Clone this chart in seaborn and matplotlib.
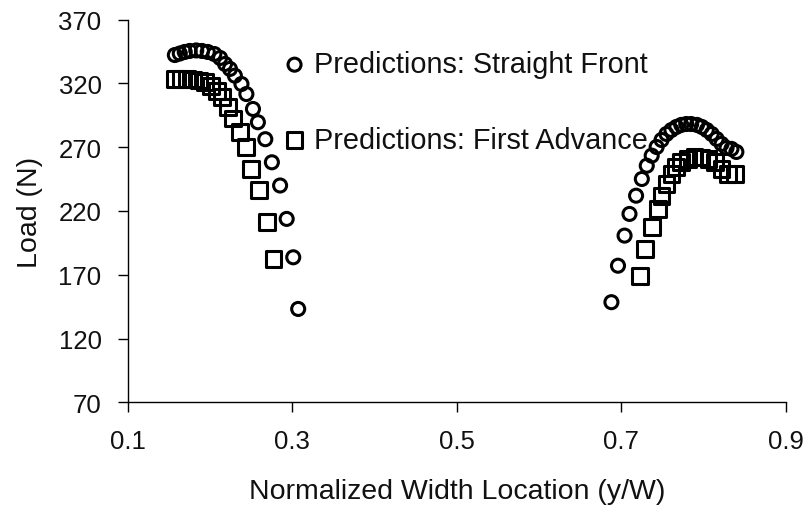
import matplotlib
matplotlib.use("Agg")
import matplotlib.pyplot as plt
import seaborn as sns
import numpy as np
import pandas as pd

# ---- data ----
sf_left_x = [0.157, 0.163, 0.169, 0.175, 0.183, 0.190, 0.197, 0.205, 0.212, 0.218, 0.224,
             0.230, 0.238, 0.244, 0.252, 0.258, 0.267, 0.275, 0.285, 0.293, 0.301, 0.307]
sf_left_y = [342.3, 343.5, 344.7, 345.5, 345.9, 345.5, 344.7, 343.1, 340.0, 335.3, 331.4,
             326.1, 319.6, 311.7, 300.0, 289.6, 276.3, 258.2, 240.0, 213.8, 183.7, 143.2]
sf_right_x = [0.688, 0.696, 0.704, 0.710, 0.718, 0.725, 0.731, 0.737, 0.743, 0.749, 0.755,
              0.761, 0.767, 0.773, 0.779, 0.785, 0.792, 0.798, 0.804, 0.810, 0.816, 0.822,
              0.828, 0.834, 0.840]
sf_right_y = [148.5, 177.1, 200.7, 217.7, 232.0, 245.1, 255.5, 263.4, 270.2, 275.7, 280.4,
              283.5, 285.9, 287.5, 288.2, 288.2, 287.5, 285.9, 283.5, 280.4, 276.5, 272.6,
              269.4, 268.7, 266.3]

fa_left_x = [0.157, 0.164, 0.172, 0.179, 0.186, 0.194, 0.201, 0.208, 0.214, 0.222, 0.228,
             0.236, 0.244, 0.250, 0.259, 0.269, 0.277]
fa_left_y = [323.5, 323.5, 323.5, 323.1, 322.3, 321.2, 318.0, 314.1, 309.2, 301.3, 292.5,
             281.7, 270.0, 253.0, 236.5, 211.4, 182.4]
fa_right_x = [0.723, 0.729, 0.737, 0.745, 0.749, 0.755, 0.761, 0.767, 0.773, 0.781, 0.789,
              0.797, 0.806, 0.814, 0.822, 0.830, 0.838]
fa_right_y = [169.3, 190.2, 207.3, 221.6, 232.0, 241.2, 249.0, 254.3, 258.2, 260.8, 262.1,
              262.0, 260.8, 258.2, 253.0, 249.0, 249.0]

series_names = ["Predictions: Straight Front", "Predictions: First Advance"]
x_ticks = [0.1, 0.3, 0.5, 0.7, 0.9]
y_ticks = [70, 120, 170, 220, 270, 320, 370]

df_sf = pd.DataFrame({"x": sf_left_x + sf_right_x, "load": sf_left_y + sf_right_y})
df_fa = pd.DataFrame({"x": fa_left_x + fa_right_x, "load": fa_left_y + fa_right_y})

sns.set_style("white")
plt.rcParams["font.family"] = ["Liberation Sans", "DejaVu Sans"]

fig = plt.figure(figsize=(8.05, 5.06), dpi=100)
ax = fig.add_axes([128 / 805, 1 - 403.3 / 506, (785.7 - 128) / 805, (403.3 - 20.7) / 506])

sns.scatterplot(data=df_sf, x="x", y="load", ax=ax, marker="o", s=88,
                facecolors="none", edgecolor="black", linewidth=2.2,
                label=series_names[0], legend=False)
sns.scatterplot(data=df_fa, x="x", y="load", ax=ax, marker="s", s=130,
                facecolors="none", edgecolor="black", linewidth=2.2,
                label=series_names[1], legend=False)

ax.set_xlim(0.1, 0.9)
ax.set_ylim(70, 370)
ax.set_xticks(x_ticks)
ax.set_yticks(y_ticks)
ax.set_xticklabels([f"{v:.1f}" for v in x_ticks])
ax.set_yticklabels([str(v) for v in y_ticks])

for side in ["top", "right"]:
    ax.spines[side].set_visible(False)
for side in ["left", "bottom"]:
    ax.spines[side].set_color("black")
    ax.spines[side].set_linewidth(1.0)

ax.tick_params(axis="both", which="major", direction="out", length=7, width=1.0,
               color="black", labelsize=18.5, labelcolor="#111111",
               bottom=True, left=True)
ax.tick_params(axis="y", pad=12)
ax.tick_params(axis="x", pad=12)

ax.set_xlabel("Normalized Width Location (y/W)", fontsize=20.5, labelpad=18, color="#111111")
ax.set_ylabel("Load (N)", fontsize=20.5, labelpad=11, color="#111111")

leg = ax.legend(loc="upper left", bbox_to_anchor=(0.2005, 0.973), frameon=False,
                fontsize=20.8, handletextpad=0.16, labelspacing=1.64, borderaxespad=0.3,
                handlelength=1.0, markerscale=1.0)
for t in leg.get_texts():
    t.set_color("#111111")

fig.savefig("out.png", dpi=100)
